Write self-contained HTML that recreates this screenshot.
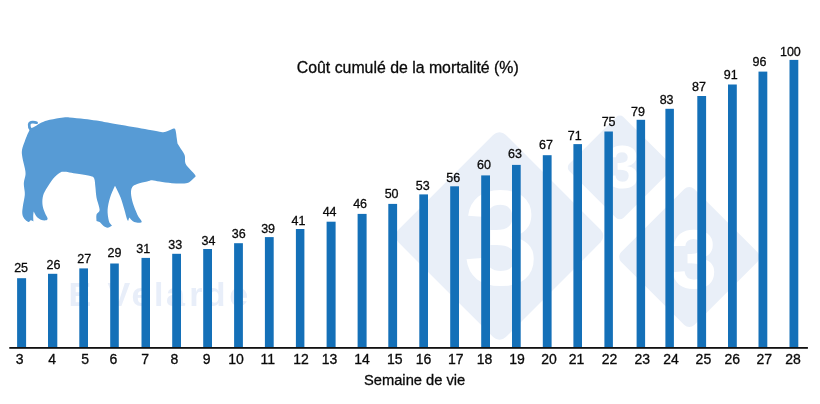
<!DOCTYPE html>
<html lang="fr"><head><meta charset="utf-8"><title>Coût cumulé de la mortalité (%)</title>
<style>
html,body{margin:0;padding:0;background:#fff;}
body{width:820px;height:404px;overflow:hidden;}
svg{display:block;font-family:"Liberation Sans",Arial,Helvetica,sans-serif;}
.v{font-size:12.5px;fill:#0a0a0a;stroke:#0a0a0a;stroke-width:0.3px;text-anchor:middle;}
.t{font-size:14px;fill:#0a0a0a;stroke:#0a0a0a;stroke-width:0.3px;text-anchor:middle;}
.h{fill:#0a0a0a;stroke:#0a0a0a;stroke-width:0.3px;}
</style></head><body>
<svg width="820" height="404" viewBox="0 0 820 404">
<rect width="820" height="404" fill="#fff"/>

<g>
<rect x="423.5" y="160.0" width="152.0" height="152.0" rx="9.0" transform="rotate(45 499.5 236.0)" fill="#e9eff8"/>
<rect x="581.6" y="129.2" width="76.4" height="76.4" rx="5.0" transform="rotate(45 619.8 167.4)" fill="#e9eff8"/>
<rect x="637.7" y="205.4" width="103.2" height="103.2" rx="7.0" transform="rotate(45 689.3 257.0)" fill="#e9eff8"/>
<text x="501" y="284.2" font-size="135" font-weight="bold" fill="#fff" text-anchor="middle">3</text>
<text x="622.5" y="187.5" font-size="62" font-weight="bold" fill="#fff" text-anchor="middle">3</text>
<text x="694" y="288.3" font-size="83" font-weight="bold" fill="#fff" text-anchor="middle">3</text>
<text x="68.5 90 107.5 131.6 153.9 165.9 189.3 204.8 229.3" y="305.6" font-size="34" font-weight="bold" fill="#e8eef9">E Velarde</text>
</g>
<path d="M36.6,125.5C38.1,124.6 39.2,123.6 41.0,122.8C42.8,122.0 44.0,121.3 47.1,120.5C50.2,119.7 55.8,118.5 59.5,118.0C63.2,117.5 65.3,117.2 69.4,117.4C73.5,117.6 79.8,118.4 84.3,118.9C88.8,119.4 92.3,119.8 96.6,120.5C100.9,121.2 103.6,121.9 110.0,123.0C116.4,124.1 126.6,125.8 134.8,127.3C143.1,128.8 154.6,130.9 159.5,131.7C164.4,132.5 162.8,132.2 164.5,132.0C166.2,131.8 168.0,130.9 169.5,130.3C171.0,129.7 172.7,128.6 173.7,128.6C174.7,128.6 175.1,128.8 175.6,130.4C176.1,132.1 176.5,136.3 176.8,138.5C177.1,140.7 177.3,141.8 177.5,143.4C179.3,146.3 181.8,150.0 183.0,152.1C184.2,154.2 184.5,154.3 184.9,156.2C185.3,158.1 184.6,161.3 185.5,163.6C186.4,165.9 188.8,167.8 190.4,169.8C192.1,171.8 194.8,174.1 195.4,175.4C196.0,176.7 195.2,176.7 194.2,177.8C193.2,178.9 190.8,181.3 189.2,182.2C187.5,183.1 187.2,183.2 184.3,183.4C181.4,183.6 176.0,183.5 171.9,183.2C167.8,182.9 162.8,182.1 159.5,181.6C156.2,181.1 154.2,180.3 152.1,180.3C150.0,180.3 149.6,181.0 147.1,181.6C144.6,182.2 139.7,183.1 137.2,184.0C134.7,184.9 133.3,185.5 132.3,187.1C131.3,188.7 130.9,190.6 131.0,193.3C131.1,196.1 131.9,200.0 133.0,203.6C134.1,207.2 136.0,211.7 137.4,214.7C138.8,217.7 141.4,220.2 141.7,221.5C142.0,222.8 140.4,222.6 139.2,222.7C138.0,222.8 135.6,222.4 134.3,221.9C133.0,221.4 132.0,220.4 131.2,219.7C130.4,219.0 129.9,218.3 129.3,217.6C128.9,218.7 128.5,219.9 128.1,221.0C127.7,220.1 127.4,220.3 126.8,218.4C126.2,216.5 125.4,213.3 124.4,209.8C123.4,206.3 122.2,201.4 120.6,197.4C119.0,193.4 116.8,189.6 115.0,185.8C113.4,189.6 111.3,193.4 110.1,197.4C108.9,201.4 107.8,205.9 107.6,209.8C107.4,213.7 108.2,218.2 108.9,220.9C109.6,223.6 111.0,224.2 112.0,225.8C110.5,226.4 109.0,227.7 107.6,227.7C106.1,227.7 104.6,226.7 103.3,225.8C102.0,224.9 100.7,222.9 99.6,222.1C98.5,221.3 97.5,221.3 96.5,220.9C96.5,218.9 96.0,216.5 96.5,214.7C97.0,212.8 99.6,212.7 99.6,209.8C99.6,206.9 97.2,201.2 96.5,197.4C95.8,193.6 95.8,190.2 95.4,187.1C95.0,183.9 95.0,180.3 94.2,178.5C93.4,176.7 92.9,176.7 90.4,176.0C87.9,175.3 83.6,174.8 79.3,174.1C75.0,173.4 67.8,171.9 64.5,171.7C61.2,171.5 61.4,171.8 59.5,172.9C57.6,174.0 55.6,175.7 53.3,178.5C51.0,181.3 47.7,186.4 45.9,189.6C44.1,192.8 43.2,194.7 42.7,197.4C42.2,200.1 42.3,203.3 42.7,206.0C43.1,208.7 44.4,211.4 45.2,213.5C46.0,215.6 47.5,217.3 47.6,218.4C47.7,219.5 46.9,220.1 45.8,220.3C44.7,220.5 42.3,220.3 40.8,219.7C39.2,219.1 37.7,217.9 36.5,216.6C35.3,215.2 34.6,213.2 33.7,211.6C33.5,213.0 33.2,214.2 33.2,215.9C33.2,217.6 33.3,219.7 33.4,221.5C32.6,221.1 31.7,220.2 30.9,220.3C30.1,220.4 29.6,222.2 28.5,221.9C27.4,221.6 25.1,219.8 24.1,218.4C23.1,217.0 22.5,215.6 22.3,213.5C22.1,211.4 22.5,209.1 22.9,206.0C23.3,202.9 24.6,197.9 24.8,194.9C25.0,191.9 24.4,190.1 24.2,188.0C24.0,185.9 23.7,184.4 23.9,182.2C24.1,180.0 25.3,177.1 25.5,174.8C25.7,172.5 25.4,171.5 24.9,168.6C24.4,165.7 22.9,160.5 22.4,157.4C21.9,154.3 21.6,152.8 22.0,150.0C22.4,147.2 23.6,144.3 24.9,140.9C26.2,137.5 28.4,132.0 29.8,129.8C31.2,127.6 31.9,128.2 33.0,127.5C34.1,126.8 35.4,126.2 36.6,125.5Z" fill="#579bd5"/>
<path d="M31,130C28.2,126 28.4,122.2 32.6,122.1C34.3,122.05 35.6,122.3 36.6,122.7" fill="none" stroke="#579bd5" stroke-width="2.7" stroke-linecap="round"/>
<rect x="17.1" y="278.2" width="9.0" height="69.8" fill="#1470b8"/>
<rect x="48.0" y="273.8" width="9.3" height="74.2" fill="#1470b8"/>
<rect x="79.3" y="268.4" width="8.7" height="79.6" fill="#1470b8"/>
<rect x="110.2" y="263.5" width="8.6" height="84.5" fill="#1470b8"/>
<rect x="141.5" y="257.9" width="8.5" height="90.1" fill="#1470b8"/>
<rect x="172.2" y="253.8" width="8.8" height="94.2" fill="#1470b8"/>
<rect x="203.2" y="249.0" width="8.8" height="99.0" fill="#1470b8"/>
<rect x="234.1" y="243.2" width="8.8" height="104.8" fill="#1470b8"/>
<rect x="264.9" y="237.1" width="8.8" height="110.9" fill="#1470b8"/>
<rect x="295.9" y="229.0" width="8.5" height="119.0" fill="#1470b8"/>
<rect x="326.6" y="221.7" width="9.0" height="126.3" fill="#1470b8"/>
<rect x="357.6" y="213.9" width="9.0" height="134.1" fill="#1470b8"/>
<rect x="388.3" y="203.9" width="8.8" height="144.1" fill="#1470b8"/>
<rect x="419.3" y="194.4" width="8.7" height="153.6" fill="#1470b8"/>
<rect x="450.2" y="186.3" width="8.8" height="161.7" fill="#1470b8"/>
<rect x="481.2" y="175.4" width="8.8" height="172.6" fill="#1470b8"/>
<rect x="512.0" y="164.9" width="8.7" height="183.1" fill="#1470b8"/>
<rect x="542.8" y="155.2" width="8.8" height="192.8" fill="#1470b8"/>
<rect x="573.4" y="144.1" width="8.6" height="203.9" fill="#1470b8"/>
<rect x="604.4" y="131.5" width="8.5" height="216.5" fill="#1470b8"/>
<rect x="636.6" y="119.8" width="8.5" height="228.2" fill="#1470b8"/>
<rect x="665.4" y="108.8" width="8.5" height="239.2" fill="#1470b8"/>
<rect x="697.3" y="96.0" width="8.8" height="252.0" fill="#1470b8"/>
<rect x="728.0" y="84.5" width="8.8" height="263.5" fill="#1470b8"/>
<rect x="758.5" y="71.6" width="8.8" height="276.4" fill="#1470b8"/>
<rect x="789.5" y="59.9" width="8.8" height="288.1" fill="#1470b8"/>
<rect x="9.3" y="347.0" width="798.6" height="1.8" fill="#111"/>
<text class="v" x="21.1" y="271.8">25</text>
<text class="v" x="53.5" y="268.9">26</text>
<text class="v" x="84.3" y="262.8">27</text>
<text class="v" x="114.5" y="256.7">29</text>
<text class="v" x="143.2" y="252.6">31</text>
<text class="v" x="175.2" y="248.9">33</text>
<text class="v" x="208.4" y="244.9">34</text>
<text class="v" x="238.7" y="237.8">36</text>
<text class="v" x="268.1" y="232.7">39</text>
<text class="v" x="298.5" y="224.6">41</text>
<text class="v" x="329.6" y="216.3">44</text>
<text class="v" x="360.1" y="208.3">46</text>
<text class="v" x="391.6" y="198.0">50</text>
<text class="v" x="422.8" y="190.0">53</text>
<text class="v" x="453.3" y="181.5">56</text>
<text class="v" x="484.0" y="169.3">60</text>
<text class="v" x="514.9" y="158.3">63</text>
<text class="v" x="546.0" y="148.5">67</text>
<text class="v" x="574.8" y="139.5">71</text>
<text class="v" x="608.6" y="126.1">75</text>
<text class="v" x="637.9" y="115.6">79</text>
<text class="v" x="666.6" y="103.9">83</text>
<text class="v" x="698.9" y="91.1">87</text>
<text class="v" x="730.8" y="79.4">91</text>
<text class="v" x="759.4" y="66.2">96</text>
<text class="v" x="790.4" y="55.7">100</text>
<text class="t" x="19.7" y="364">3</text>
<text class="t" x="52.2" y="364">4</text>
<text class="t" x="85.2" y="364">5</text>
<text class="t" x="113.4" y="364">6</text>
<text class="t" x="145.2" y="364">7</text>
<text class="t" x="174.3" y="364">8</text>
<text class="t" x="206.6" y="364">9</text>
<text class="t" x="236.0" y="364">10</text>
<text class="t" x="267.7" y="364">11</text>
<text class="t" x="301.1" y="364">12</text>
<text class="t" x="329.6" y="364">13</text>
<text class="t" x="362.1" y="364">14</text>
<text class="t" x="394.8" y="364">15</text>
<text class="t" x="423.6" y="364">16</text>
<text class="t" x="455.7" y="364">17</text>
<text class="t" x="484.6" y="364">18</text>
<text class="t" x="517.0" y="364">19</text>
<text class="t" x="549.0" y="364">20</text>
<text class="t" x="576.5" y="364">21</text>
<text class="t" x="609.5" y="364">22</text>
<text class="t" x="642.2" y="364">23</text>
<text class="t" x="671.0" y="364">24</text>
<text class="t" x="703.4" y="364">25</text>
<text class="t" x="732.2" y="364">26</text>
<text class="t" x="764.2" y="364">27</text>
<text class="t" x="793.0" y="364">28</text>
<text class="h" x="296.8" y="72.8" font-size="15.85">Coût cumulé de la mortalité (%)</text>
<text class="h" x="364" y="385.4" font-size="14.7">Semaine de vie</text>
</svg></body></html>
